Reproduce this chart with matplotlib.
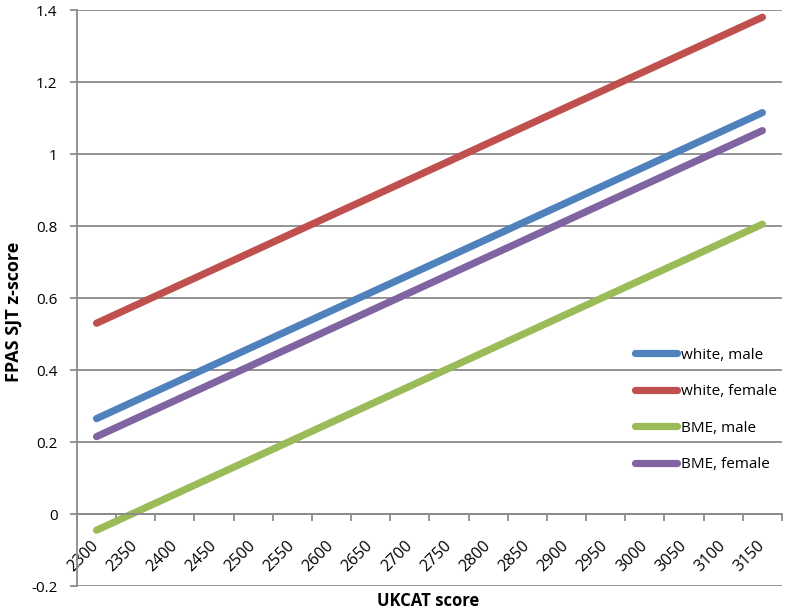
import matplotlib.pyplot as plt

plt.rcParams['font.family'] = ['Open Sans', 'DejaVu Sans']

scores = ['2300', '2350', '2400', '2450', '2500', '2550', '2600', '2650', '2700',
          '2750', '2800', '2850', '2900', '2950', '3000', '3050', '3100', '3150']

white_male = [0.265, 0.315, 0.365, 0.415, 0.465, 0.515, 0.565, 0.615, 0.665,
              0.715, 0.765, 0.815, 0.865, 0.915, 0.965, 1.015, 1.065, 1.115]
white_female = [0.53, 0.58, 0.63, 0.68, 0.73, 0.78, 0.83, 0.88, 0.93,
                0.98, 1.03, 1.08, 1.13, 1.18, 1.23, 1.28, 1.33, 1.38]
bme_male = [-0.045, 0.005, 0.055, 0.105, 0.155, 0.205, 0.255, 0.305, 0.355,
            0.405, 0.455, 0.505, 0.555, 0.605, 0.655, 0.705, 0.755, 0.805]
bme_female = [0.215, 0.265, 0.315, 0.365, 0.415, 0.465, 0.515, 0.565, 0.615,
              0.665, 0.715, 0.765, 0.815, 0.865, 0.915, 0.965, 1.015, 1.065]

y_ticks = [-0.2, 0, 0.2, 0.4, 0.6, 0.8, 1, 1.2, 1.4]
y_labels = ['-0.2', '0', '0.2', '0.4', '0.6', '0.8', '1', '1.2', '1.4']

fig = plt.figure(figsize=(7.87, 6.11), dpi=100)
ax = fig.add_axes([0.0978, 0.0409, 0.8958, 0.9427])

x = list(range(len(scores)))
series = [(white_male, 'white, male', '#4F81BD'),
          (white_female, 'white, female', '#C0504D'),
          (bme_male, 'BME, male', '#9BBB59'),
          (bme_female, 'BME, female', '#8064A2')]
for vals, lab, col in series:
    ax.plot(x, vals, color=col, lw=5.2, solid_capstyle='round', label=lab)

ax.set_xlim(-0.5, len(scores) - 0.5)
ax.set_ylim(-0.2, 1.4)
ax.set_yticks(y_ticks)
ax.set_yticklabels(y_labels)
ax.grid(axis='y', color='#8a8a8a', lw=1.3)
ax.set_axisbelow(True)

for s in ['top', 'right']:
    ax.spines[s].set_visible(False)
ax.spines['left'].set_color('#8a8a8a')
ax.spines['left'].set_linewidth(1.3)
ax.spines['bottom'].set_position(('data', 0))
ax.spines['bottom'].set_color('#8a8a8a')
ax.spines['bottom'].set_linewidth(1.3)

# labels at category centres, tick marks at boundaries
ax.set_xticks(x)
ax.set_xticklabels(scores, rotation=45, ha='right', va='center', rotation_mode='anchor')
ax.tick_params(axis='x', length=0, pad=21, labelsize=11.5)
ax.set_xticks([i - 0.5 for i in range(len(scores) + 1)], minor=True)
ax.tick_params(axis='x', which='minor', length=5, width=1.3, color='#8a8a8a', direction='out')
ax.tick_params(axis='y', length=5, width=1.3, color='#8a8a8a', labelsize=11, pad=9)

fig.text(0.018, 0.49, 'FPAS SJT z-score', rotation=90, ha='center', va='center',
         fontsize=13, fontweight='bold')
fig.text(0.544, 0.016, 'UKCAT score', ha='center', va='center',
         fontsize=12, fontweight='bold')

ax.legend(loc='center left', bbox_to_anchor=(0.789, 0.329), bbox_transform=fig.transFigure,
          frameon=False, fontsize=11, handlelength=2.8, labelspacing=1.41,
          handletextpad=0.2, borderpad=0.4)

fig.savefig('out.png', dpi=100)
